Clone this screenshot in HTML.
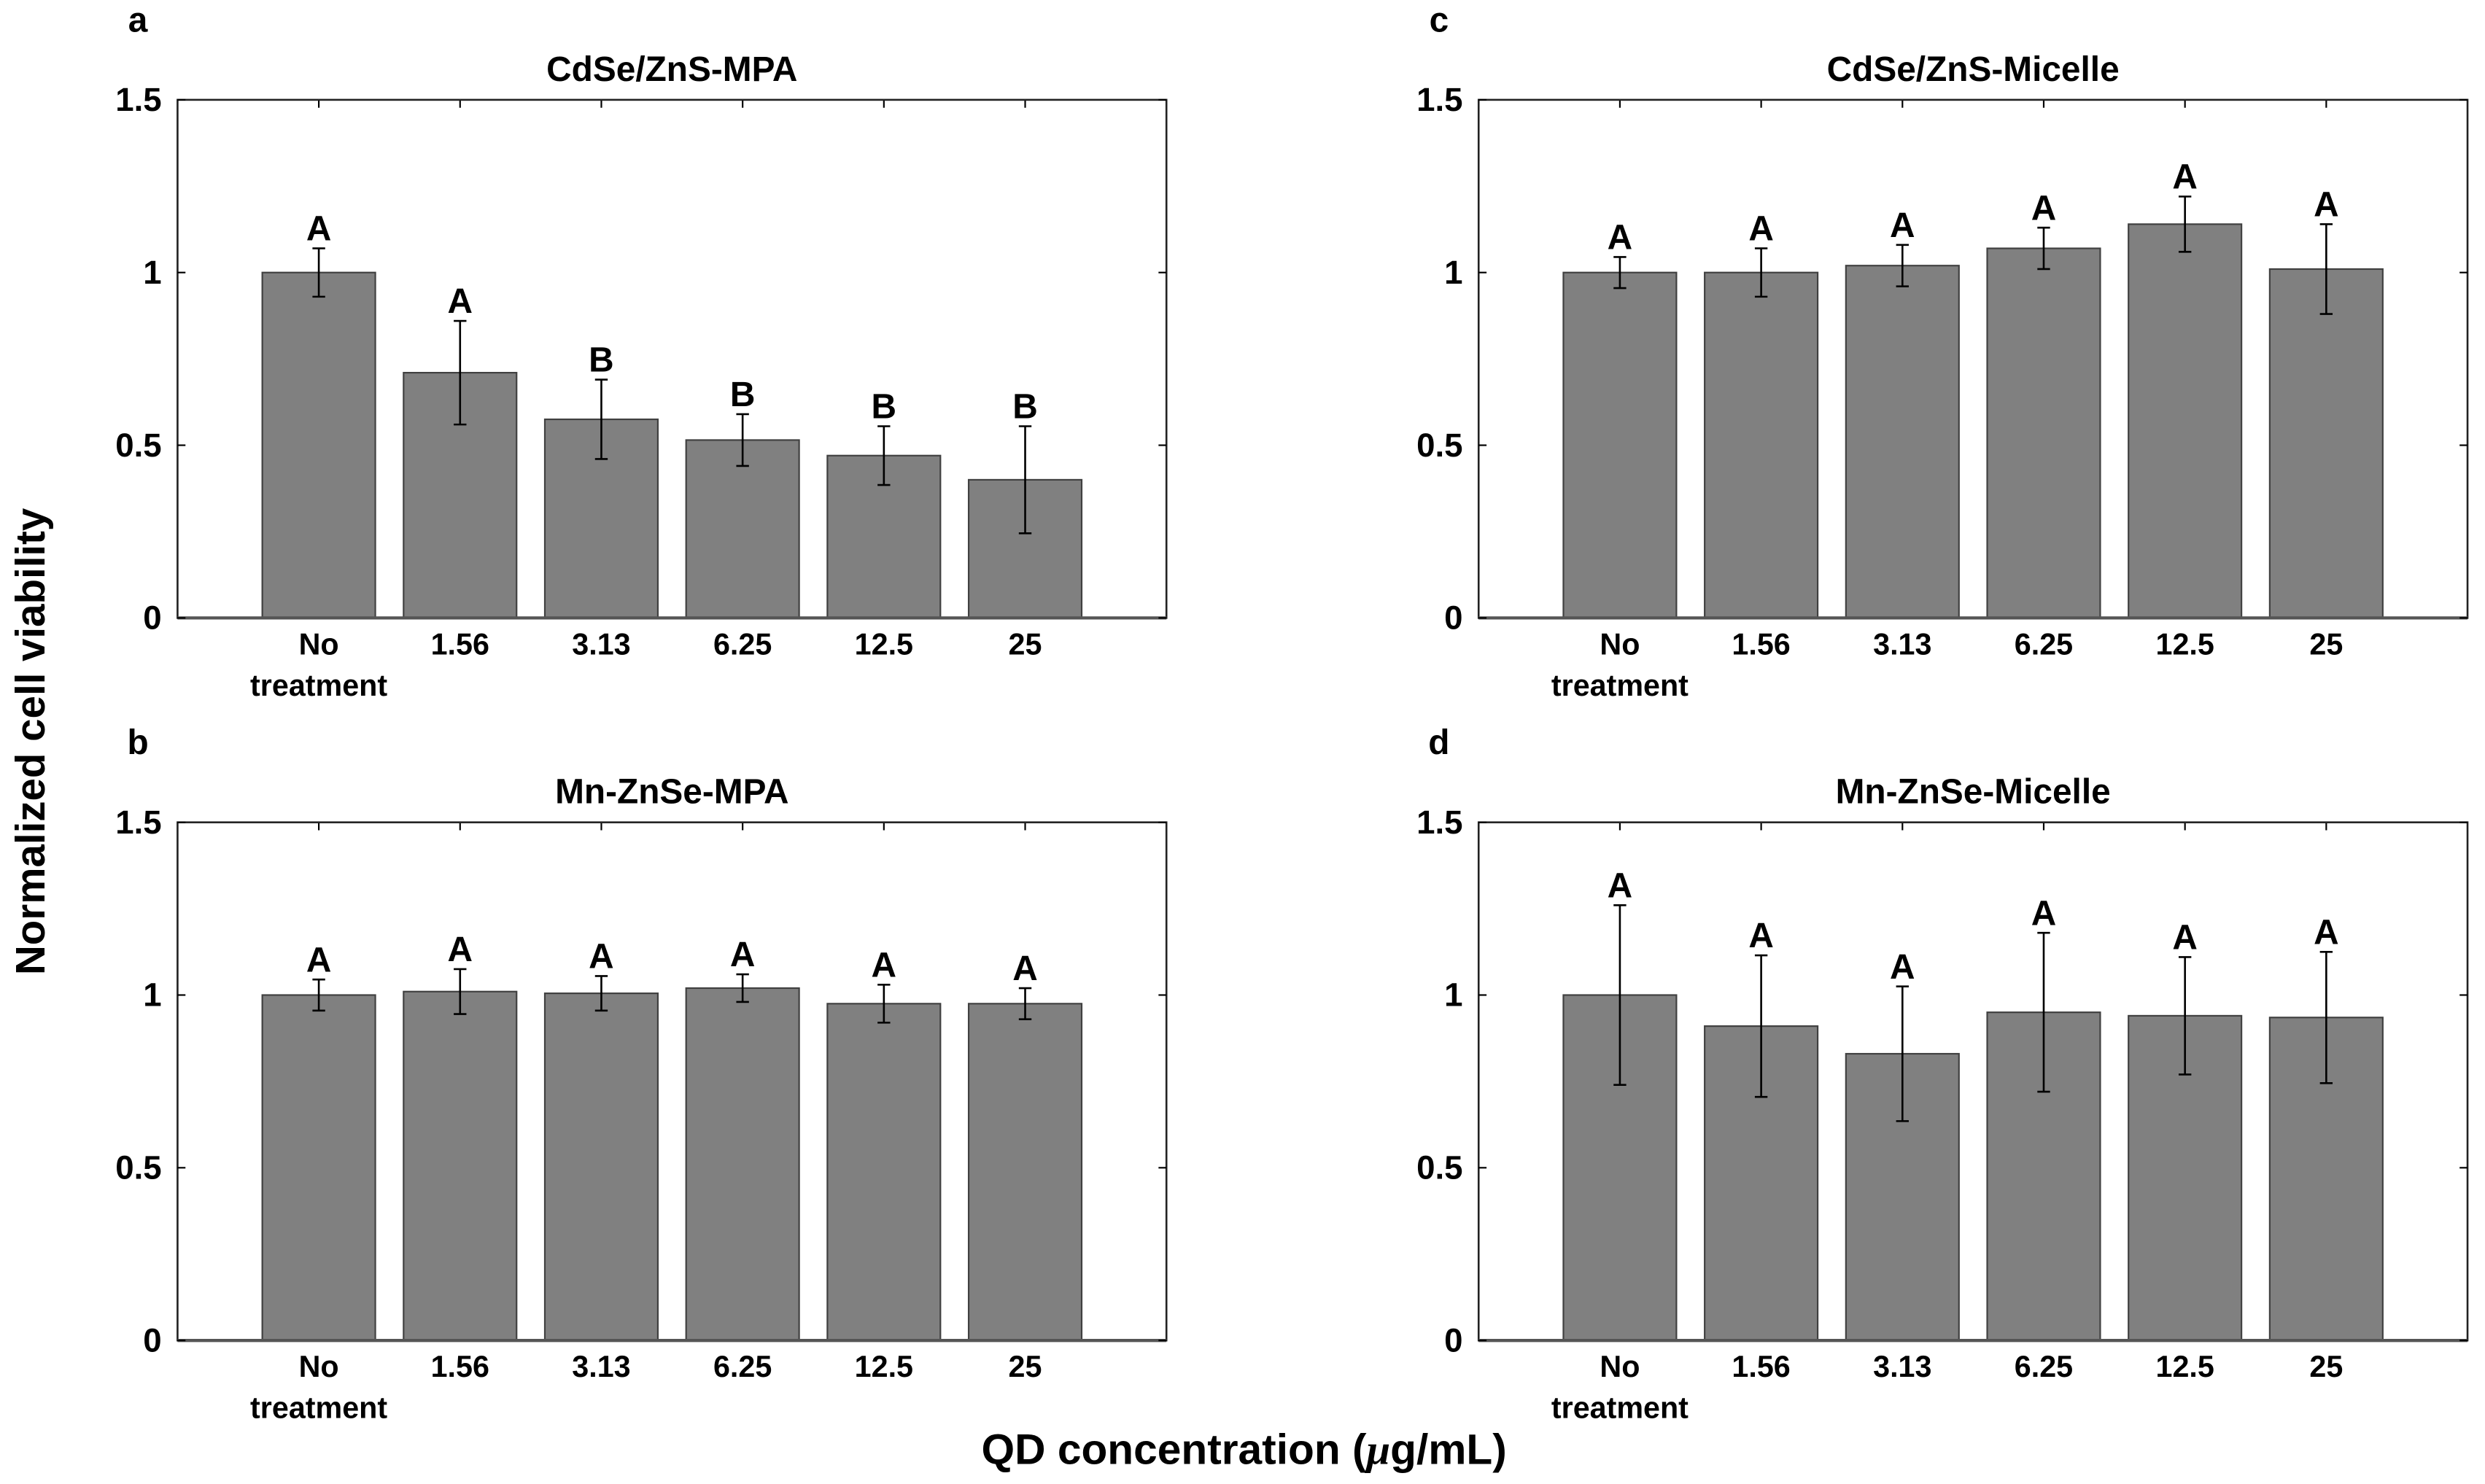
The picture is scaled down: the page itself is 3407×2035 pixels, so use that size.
<!DOCTYPE html>
<html><head><meta charset="utf-8"><style>
html,body{margin:0;padding:0;background:#fff;}
svg{display:block;font-family:"Liberation Sans",Arial,sans-serif;font-weight:bold;}
</style></head><body>
<svg id="fig" width="3407" height="2035" viewBox="0 0 1568 936.6" xmlns="http://www.w3.org/2000/svg">
<text transform="translate(28,468) rotate(-90)" text-anchor="middle" font-size="26">Normalized cell viability</text>
<text x="785" y="924" text-anchor="middle" font-size="27">QD concentration (<tspan font-style="italic" font-family="Liberation Serif">μ</tspan>g/mL)</text>
</svg>
<script>
const categories = ["No", "1.56", "3.13", "6.25", "12.5", "25"];
const yTicks = [0, 0.5, 1, 1.5];
const yTickLabels = ["0", "0.5", "1", "1.5"];
const panelTitles = ["CdSe/ZnS-MPA", "CdSe/ZnS-Micelle", "Mn-ZnSe-MPA", "Mn-ZnSe-Micelle"];
const panelLetters = ["a", "c", "b", "d"];
const valuesA = [1.0, 0.71, 0.575, 0.515, 0.47, 0.40];
const errorsA = [0.07, 0.15, 0.115, 0.075, 0.085, 0.155];
const lettersA = ["A", "A", "B", "B", "B", "B"];
const valuesC = [1.0, 1.0, 1.02, 1.07, 1.14, 1.01];
const errorsC = [0.045, 0.07, 0.06, 0.06, 0.08, 0.13];
const lettersC = ["A", "A", "A", "A", "A", "A"];
const valuesB = [1.0, 1.01, 1.005, 1.02, 0.975, 0.975];
const errorsB = [0.045, 0.065, 0.05, 0.04, 0.055, 0.045];
const lettersB = ["A", "A", "A", "A", "A", "A"];
const valuesD = [1.0, 0.91, 0.83, 0.95, 0.94, 0.935];
const errorsD = [0.26, 0.205, 0.195, 0.23, 0.17, 0.19];
const lettersD = ["A", "A", "A", "A", "A", "A"];

const svg = document.getElementById('fig');
const NS = 'http://www.w3.org/2000/svg';
function mk(tag, attrs, parent) {
  const e = document.createElementNS(NS, tag);
  for (const k in attrs) e.setAttribute(k, attrs[k]);
  (parent || svg).appendChild(e);
  return e;
}
const layout = [
  {l:112, t:63, vals:valuesA, errs:errorsA, lets:lettersA, key:'a'},
  {l:933, t:63, vals:valuesC, errs:errorsC, lets:lettersC, key:'c'},
  {l:112, t:519, vals:valuesB, errs:errorsB, lets:lettersB, key:'b'},
  {l:933, t:519, vals:valuesD, errs:errorsD, lets:lettersD, key:'d'}
];
layout.forEach((p, i) => {
  const W = 624, H = 327;
  const g = mk('g', {});
  
  
  const xs = c => p.l + (c + 1) * W / 7;
  const ys = v => p.t + H - v / 1.5 * H;
  const bw = 0.8 * W / 7;
  const title = mk('text', {x: p.l + W / 2, y: p.t - 12, 'text-anchor': 'middle', 'font-size': 22}, g);
  title.textContent = panelTitles[i];
  
  
  const let_ = mk('text', {x: p.l - 25, y: p.t - 43, 'text-anchor': 'middle', 'font-size': 22}, g);
  let_.textContent = panelLetters[i];
  
  
  p.vals.forEach((v, c) => {
    const r = mk('rect', {x: xs(c) - bw / 2, y: ys(v), width: bw, height: ys(0) - ys(v), fill: '#808080', stroke: '#404040', 'stroke-width': 1}, g);
    
    
    const e = p.errs[c], x = xs(c);
    const eg = mk('g', {stroke: '#000', 'stroke-width': 1.2}, g);
    
    
    mk('line', {x1: x, x2: x, y1: ys(v - e), y2: ys(v + e)}, eg);
    mk('line', {x1: x - 4, x2: x + 4, y1: ys(v - e), y2: ys(v - e)}, eg);
    mk('line', {x1: x - 4, x2: x + 4, y1: ys(v + e), y2: ys(v + e)}, eg);
    const sl = mk('text', {x: x, y: ys(v + e) - 5, 'text-anchor': 'middle', 'font-size': 22}, g);
    sl.textContent = p.lets[c];
    
    
    const tl = mk('text', {x: x, y: p.t + H + 23, 'text-anchor': 'middle', 'font-size': 19}, g);
    tl.textContent = categories[c];
    
    
    if (c === 0) {
      const t2 = mk('text', {x: x, y: p.t + H + 49, 'text-anchor': 'middle', 'font-size': 19}, g);
      t2.textContent = 'treatment';
      
      
    }
    mk('line', {x1: x, x2: x, y1: p.t, y2: p.t + 5, stroke: '#000', 'stroke-width': 1}, g);
  });
  const box = mk('rect', {x: p.l, y: p.t, width: W, height: H, fill: 'none', stroke: '#222', 'stroke-width': 1.2}, g);
  
  
  mk('line', {x1: p.l, x2: p.l + W, y1: p.t + H, y2: p.t + H, stroke: '#555', 'stroke-width': 2}, g);
  yTicks.forEach((t, k) => {
    const y = ys(t);
    mk('line', {x1: p.l, x2: p.l + 5, y1: y, y2: y, stroke: '#000', 'stroke-width': 1}, g);
    mk('line', {x1: p.l + W - 5, x2: p.l + W, y1: y, y2: y, stroke: '#000', 'stroke-width': 1}, g);
    const yl = mk('text', {x: p.l - 10, y: y + 7, 'text-anchor': 'end', 'font-size': 21}, g);
    yl.textContent = yTickLabels[k];
    
    
  });
});
</script>
</body></html>
